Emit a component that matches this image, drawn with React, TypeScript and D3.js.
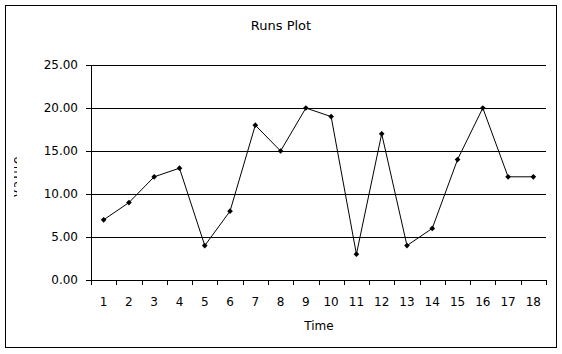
import React from "react";
import * as d3 from "d3";

const categories: number[] = [1, 2, 3, 4, 5, 6, 7, 8, 9, 10, 11, 12, 13, 14, 15, 16, 17, 18];
const values: number[] = [7, 9, 12, 13, 4, 8, 18, 15, 20, 19, 3, 17, 4, 6, 14, 20, 12, 12];
const yTicks: number[] = [0, 5, 10, 15, 20, 25];

const W = 562;
const H = 354;
const M = { left: 91, right: 546, top: 65, bottom: 280 };
const FONT = "DejaVu Sans, Verdana, sans-serif";

export default function App() {
  const x = d3
    .scaleBand<number>()
    .domain(categories)
    .range([M.left, M.right])
    .paddingInner(0)
    .paddingOuter(0);
  const y = d3.scaleLinear().domain([0, 25]).range([M.bottom, M.top]);
  const line = d3
    .line<number>()
    .x((_, i) => (x(categories[i]) as number) + x.bandwidth() / 2)
    .y((d) => y(d));
  const diamond = d3.symbol().type(d3.symbolSquare).size(16)() as string;
  const boundaries = categories.map((c) => x(c) as number).concat([M.right]);

  return (
    <svg
      width={W}
      height={H}
      style={{ position: "absolute", left: 0, top: 0, display: "block" }}
      shapeRendering="crispEdges"
    >
      <rect x={0} y={0} width={W} height={H} fill="#fff" />
      <rect x={5.5} y={5.5} width={551} height={342} fill="#fff" stroke="#000" strokeWidth={1} />
      <text x={281} y={30} textAnchor="middle" fontFamily={FONT} fontSize={13} fill="#000">
        Runs Plot
      </text>
      {yTicks.map((t) => (
        <g key={t}>
          <line x1={86} x2={M.right} y1={Math.round(y(t)) + 0.5} y2={Math.round(y(t)) + 0.5} stroke="#000" />
          <text
            x={78}
            y={y(t)}
            dy="0.35em"
            textAnchor="end"
            fontFamily={FONT}
            fontSize={12}
            fill="#000"
          >
            {t.toFixed(2)}
          </text>
        </g>
      ))}
      <line x1={M.left + 0.5} x2={M.left + 0.5} y1={M.top} y2={M.bottom} stroke="#000" />
      {boundaries.map((b, i) => (
        <line
          key={i}
          x1={Math.round(b) + 0.5}
          x2={Math.round(b) + 0.5}
          y1={M.bottom}
          y2={M.bottom + 5}
          stroke="#000"
        />
      ))}
      {categories.map((c) => (
        <text
          key={c}
          x={(x(c) as number) + x.bandwidth() / 2}
          y={302}
          dy="0.35em"
          textAnchor="middle"
          fontFamily={FONT}
          fontSize={12}
          fill="#000"
        >
          {c}
        </text>
      ))}
      <text x={319} y={326} dy="0.35em" textAnchor="middle" fontFamily={FONT} fontSize={12} fill="#000">
        Time
      </text>
      <defs>
        <clipPath id="ylab">
          <rect x={14} y={145} width={3} height={62} />
        </clipPath>
      </defs>
      <g clipPath="url(#ylab)">
        <text
          transform="translate(21,176) rotate(-90)"
          textAnchor="middle"
          fontFamily={FONT}
          fontSize={12}
          letterSpacing={2}
          fill="#000"
        >
          Value
        </text>
      </g>
      <path d={line(values) as string} fill="none" stroke="#000" strokeWidth={1} shapeRendering="auto" />
      {values.map((v, i) => (
        <path
          key={i}
          d={diamond}
          transform={`translate(${(x(categories[i]) as number) + x.bandwidth() / 2},${y(v)}) rotate(45)`}
          fill="#000"
          shapeRendering="auto"
        />
      ))}
    </svg>
  );
}
